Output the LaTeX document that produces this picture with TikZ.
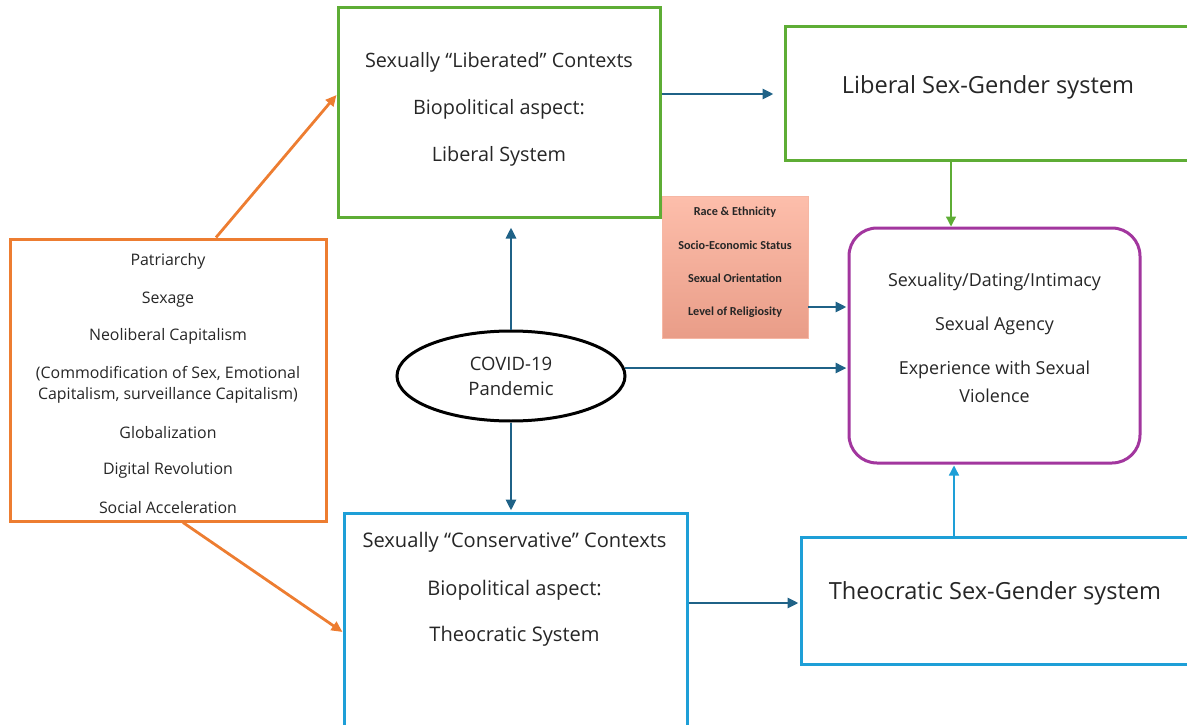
\documentclass[tikz,border=0pt]{standalone}
\usepackage{fontspec}
\setmainfont{Open Sans}
\newfontfamily\smallboldfont{Carlito}
\usetikzlibrary{arrows.meta,calc,shapes.geometric}
\definecolor{cgreen}{HTML}{5EAD35}
\definecolor{corange}{HTML}{ED7D31}
\definecolor{cblue}{HTML}{1E9FD7}
\definecolor{cpurple}{HTML}{A2369E}
\definecolor{cteal}{HTML}{1F6287}
\definecolor{ctext}{HTML}{262626}
\definecolor{salTop}{HTML}{FDBEAB}
\definecolor{salBot}{HTML}{E99D88}
\definecolor{salEdge}{HTML}{F6B7A4}
\begin{document}
\begin{tikzpicture}[x=1pt,y=-1pt,
  box/.style={draw, line width=3pt, inner sep=0pt},
  txt/.style={text=ctext, inner sep=0pt, font=\fontsize{19.8}{23}\selectfont},
  ctxt/.style={text=ctext, inner sep=0pt, font=\fontsize{20.1}{23}\selectfont},
  bigtxt/.style={text=ctext, inner sep=0pt, font=\fontsize{23.6}{28}\selectfont},
  smalltxt/.style={text=ctext, inner sep=0pt, font=\fontsize{15.9}{19}\selectfont},
  midtxt/.style={text=ctext, inner sep=0pt, font=\fontsize{17.9}{21}\selectfont},
  saltxt/.style={text=ctext, inner sep=0pt, font=\smallboldfont\bfseries\fontsize{12.2}{14}\selectfont},
  tarrow/.style={draw=cteal, line width=2.8pt, -{Triangle[length=11pt,width=10pt]}},
  oarrow/.style={draw=corange, line width=2.8pt, -{Triangle[length=11pt,width=10pt]}},
  thinarrow/.style={line width=1.4pt, -{Triangle[length=10pt,width=10pt]}}
]
\useasboundingbox (0,0) rectangle (1187,725);
\clip (0,0) rectangle (1187,725);

% boxes
\node[box, draw=cgreen, minimum width=322pt, minimum height=209pt] (b1) at (499,112.5) {};
\node[box, draw=cgreen, minimum width=410pt, minimum height=133pt] (b2) at (990,93.5) {};
\node[draw=salEdge, line width=0.8pt, top color=salTop, bottom color=salBot, minimum width=146pt, minimum height=142pt, inner sep=0pt] (sal) at (735,267) {};
\node[box, draw=cpurple, rounded corners=28pt, minimum width=291pt, minimum height=235pt] (pur) at (994.5,345.5) {};
\node[box, draw=corange, minimum width=316pt, minimum height=282pt] (ora) at (168,380) {};
\node[ellipse, draw=black, line width=3pt, minimum width=228pt, minimum height=90pt, inner sep=0pt,
      text=ctext, align=center, font=\fontsize{18.5}{25}\selectfont] (cov) at (511,376) {COVID-19\\Pandemic};
\node[box, draw=cblue, minimum width=343pt, minimum height=222pt] (c1) at (515.5,624) {};
\node[box, draw=cblue, minimum width=394pt, minimum height=127pt] (c2) at (998,600.5) {};

% texts
\node[txt] (b1a) at (499,62.5) {Sexually “Liberated” Contexts};
\node[txt] (b1b) at (499,109.5) {Biopolitical aspect:};
\node[txt] (b1c) at (499,156.5) {Liberal System};
\node[bigtxt] (b2a) at (988,87) {Liberal Sex-Gender system};
\node[saltxt] (s1) at (735,212) {Race \& Ethnicity};
\node[saltxt] (s2) at (735,245) {Socio-Economic Status};
\node[saltxt] (s3) at (735,278) {Sexual Orientation};
\node[saltxt] (s4) at (735,312) {Level of Religiosity};
\node[midtxt] (p1) at (994.5,281.5) {Sexuality/Dating/Intimacy};
\node[midtxt] (p2) at (994.5,325.5) {Sexual Agency};
\node[midtxt] (p3) at (994.5,369.5) {Experience with Sexual};
\node[midtxt] (p4) at (994.5,395.5) {Violence};
\node[smalltxt] (o1) at (168,261) {Patriarchy};
\node[smalltxt] (o2) at (168,300) {Sexage};
\node[smalltxt] (o3) at (168,336) {Neoliberal Capitalism};
\node[smalltxt] (o4) at (168,374) {(Commodification of Sex, Emotional};
\node[smalltxt] (o5) at (168,395) {Capitalism, surveillance Capitalism)};
\node[smalltxt] (o6) at (168,433) {Globalization};
\node[smalltxt] (o7) at (168,470) {Digital Revolution};
\node[smalltxt] (o8) at (168,508) {Social Acceleration};
\node[ctxt] (c1a) at (514.5,542.5) {Sexually “Conservative” Contexts};
\node[ctxt] (c1b) at (514.5,590.5) {Biopolitical aspect:};
\node[ctxt] (c1c) at (514.5,636.5) {Theocratic System};
\node[bigtxt] (c2a) at (995,593) {Theocratic Sex-Gender system};

% connectors
\coordinate (g1) at ($(b2.south)+(-39,0)$);
\coordinate (h1) at ($(c2.north)+(-44,0)$);
\draw[tarrow] ($(b1.east)+(0,-18.5)$) -- ($(b2.west)+(-10,0.5)$);
\draw[tarrow] (cov.north) -- ($(cov.north |- b1.south)+(0,9)$);
\draw[tarrow] (cov.south) -- ($(cov.south |- c1.north)+(0,-1)$);
\draw[tarrow] (cov.4.6) -- ($(cov.4.6 -| pur.west)+(-1,0)$);
\draw[tarrow] ($(sal.east)+(0,40)$) -- ($(sal.east -| pur.west)+(-1,40)$);
\draw[tarrow] ($(c1.east)+(0,-21)$) -- ($(c2.west)+(-1,2.5)$);
\draw[oarrow] ($(ora.north)+(48,0)$) -- ($(b1.west)+(0,-17.5)$);
\draw[oarrow] ($(ora.south)+(15,0)$) -- ($(c1.west)+(0,8)$);
\draw[thinarrow, draw=cgreen, fill=cgreen] (g1) -- (g1 |- pur.north);
\draw[thinarrow, draw=cblue, fill=cblue] (h1) -- ($(h1 |- pur.south)+(0,1)$);
\end{tikzpicture}
\end{document}
